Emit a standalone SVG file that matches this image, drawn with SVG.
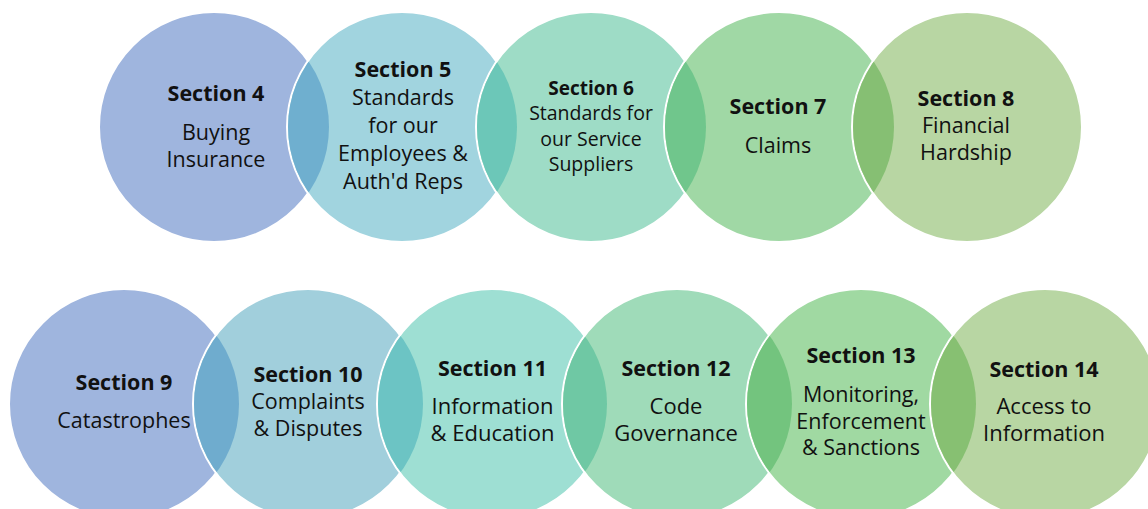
<svg xmlns="http://www.w3.org/2000/svg" width="1148" height="509" viewBox="0 0 1148 509">
<style>
.c{stroke:#ffffff;stroke-width:2}
.t{font-family:"Open Sans","Noto Sans","Liberation Sans",sans-serif;fill:#111111;text-anchor:middle}
.b{font-weight:bold}
</style>
<defs>
<clipPath id="k5"><circle cx="402" cy="127" r="114"/></clipPath>
<clipPath id="k6"><circle cx="591" cy="127" r="114"/></clipPath>
<clipPath id="k7"><circle cx="779" cy="127" r="114"/></clipPath>
<clipPath id="k8"><circle cx="967" cy="127" r="114"/></clipPath>
<clipPath id="k10"><circle cx="308" cy="404" r="114"/></clipPath>
<clipPath id="k11"><circle cx="492" cy="404" r="114"/></clipPath>
<clipPath id="k12"><circle cx="677" cy="404" r="114"/></clipPath>
<clipPath id="k13"><circle cx="861" cy="404" r="114"/></clipPath>
<clipPath id="k14"><circle cx="1045" cy="404" r="114"/></clipPath>
</defs>
<rect width="1148" height="509" fill="#ffffff"/>

<g id="sec4">
<circle class="c" cx="214" cy="127" r="115" fill="#9fb5de"/>
<text class="t b" x="216" y="101" font-size="21.5">Section 4</text>
<text class="t" x="216" y="140" font-size="21.5">Buying</text>
<text class="t" x="216" y="167" font-size="21.5">Insurance</text>
</g>
<g id="sec5">
<circle class="c" cx="402" cy="127" r="115" fill="#a1d4df"/>
<circle cx="214" cy="127" r="115" fill="#6fafcf" clip-path="url(#k5)"/>
<text class="t b" x="403" y="77" font-size="21.5">Section 5</text>
<text class="t" x="403" y="105" font-size="21.5">Standards</text>
<text class="t" x="403" y="133" font-size="21.5">for our</text>
<text class="t" x="403" y="161" font-size="21.5">Employees &amp;</text>
<text class="t" x="403" y="188.5" font-size="21.5">Auth'd Reps</text>
</g>
<g id="sec6">
<circle class="c" cx="591" cy="127" r="115" fill="#9edcc6"/>
<circle cx="402" cy="127" r="115" fill="#6cc7b8" clip-path="url(#k6)"/>
<text class="t b" x="591" y="95" font-size="19">Section 6</text>
<text class="t" x="591" y="120" font-size="19.5">Standards for</text>
<text class="t" x="591" y="145.5" font-size="19.5">our Service</text>
<text class="t" x="591" y="170.5" font-size="19.5">Suppliers</text>
</g>
<g id="sec7">
<circle class="c" cx="779" cy="127" r="115" fill="#a0d8a5"/>
<circle cx="591" cy="127" r="115" fill="#70c68c" clip-path="url(#k7)"/>
<text class="t b" x="778" y="114" font-size="21.5">Section 7</text>
<text class="t" x="778" y="152.5" font-size="21.5">Claims</text>
</g>
<g id="sec8">
<circle class="c" cx="967" cy="127" r="115" fill="#b8d6a3"/>
<circle cx="779" cy="127" r="115" fill="#86bf73" clip-path="url(#k8)"/>
<text class="t b" x="966" y="106" font-size="21.5">Section 8</text>
<text class="t" x="966" y="133" font-size="21.5">Financial</text>
<text class="t" x="966" y="160" font-size="21.5">Hardship</text>
</g>

<g id="sec9">
<circle class="c" cx="124" cy="404" r="115" fill="#9fb5de"/>
<text class="t b" x="124" y="390" font-size="21.5">Section 9</text>
<text class="t" x="124" y="428" font-size="21.5">Catastrophes</text>
</g>
<g id="sec10">
<circle class="c" cx="308" cy="404" r="115" fill="#a1cfdc"/>
<circle cx="124" cy="404" r="115" fill="#6facce" clip-path="url(#k10)"/>
<text class="t b" x="308" y="382" font-size="21.5">Section 10</text>
<text class="t" x="308" y="408.5" font-size="21.5">Complaints</text>
<text class="t" x="308" y="436" font-size="21.5">&amp; Disputes</text>
</g>
<g id="sec11">
<circle class="c" cx="492" cy="404" r="115" fill="#9edfd3"/>
<circle cx="308" cy="404" r="115" fill="#6cc4c4" clip-path="url(#k11)"/>
<text class="t b" x="492.5" y="376" font-size="21.5">Section 11</text>
<text class="t" x="492.5" y="413.5" font-size="22">Information</text>
<text class="t" x="492.5" y="441" font-size="22">&amp; Education</text>
</g>
<g id="sec12">
<circle class="c" cx="677" cy="404" r="115" fill="#9fdbb9"/>
<circle cx="492" cy="404" r="115" fill="#6fc8a4" clip-path="url(#k12)"/>
<text class="t b" x="676" y="376" font-size="21.5">Section 12</text>
<text class="t" x="676" y="413.5" font-size="22">Code</text>
<text class="t" x="676" y="441" font-size="22">Governance</text>
</g>
<g id="sec13">
<circle class="c" cx="861" cy="404" r="115" fill="#a0d9a2"/>
<circle cx="677" cy="404" r="115" fill="#73c47e" clip-path="url(#k13)"/>
<text class="t b" x="861" y="363" font-size="21.5">Section 13</text>
<text class="t" x="861" y="401.5" font-size="21.5">Monitoring,</text>
<text class="t" x="861" y="428.5" font-size="21.5">Enforcement</text>
<text class="t" x="861" y="455" font-size="21.5">&amp; Sanctions</text>
</g>
<g id="sec14">
<circle class="c" cx="1045" cy="404" r="115" fill="#b8d6a3"/>
<circle cx="861" cy="404" r="115" fill="#87c072" clip-path="url(#k14)"/>
<text class="t b" x="1044" y="377" font-size="21.5">Section 14</text>
<text class="t" x="1044" y="414" font-size="22">Access to</text>
<text class="t" x="1044" y="441" font-size="22">Information</text>
</g>
</svg>
